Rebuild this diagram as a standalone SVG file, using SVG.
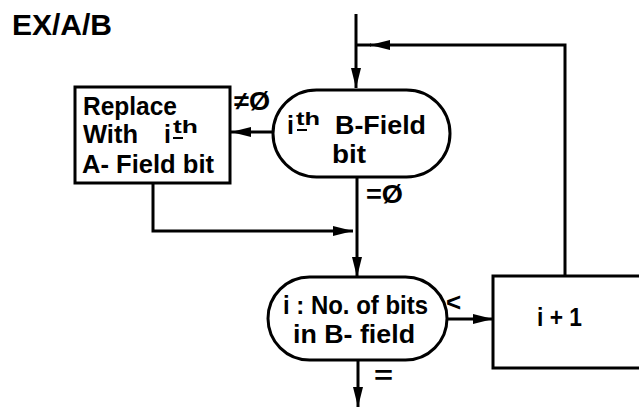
<svg xmlns="http://www.w3.org/2000/svg" width="639" height="407" viewBox="0 0 639 407">
<style>
text{font-family:"Liberation Sans",Arial,sans-serif;font-weight:bold;fill:#000}
.t{font-size:25px}
.s{font-size:18px}
.l{font-size:26px}
.shape{fill:#fff;stroke:#000;stroke-width:3}
.c{fill:none;stroke:#000;stroke-width:3}
.u{stroke:#000;stroke-width:2}
</style>
<defs>
<marker id="ah" viewBox="0 0 20 10" refX="20" refY="5" markerWidth="20" markerHeight="10" markerUnits="userSpaceOnUse" orient="auto">
<path d="M0,0 L20,5 L0,10 Z" fill="#000"/>
</marker>
</defs>
<rect width="639" height="407" fill="#fff"/>
<text x="12" y="35" font-size="30" textLength="100" lengthAdjust="spacingAndGlyphs">EX/A/B</text>
<g id="connectors">
<path class="c" d="M356,14 V88" marker-end="url(#ah)"/>
<path class="c" d="M565,276 V45 H370" marker-end="url(#ah)"/>
<path class="c" d="M371,45 H356"/>
<path class="c" d="M273,132 H231" marker-end="url(#ah)"/>
<path class="c" d="M357,177 V277" marker-end="url(#ah)"/>
<path class="c" d="M153,183 V231 H353" marker-end="url(#ah)"/>
<path class="c" d="M447,319 H493" marker-end="url(#ah)"/>
<path class="c" d="M358,360 V407" marker-end="url(#ah)"/>
<text class="l" x="234" y="110" textLength="36" lengthAdjust="spacingAndGlyphs">≠Ø</text>
<text class="l" x="366" y="203" textLength="37" lengthAdjust="spacingAndGlyphs">=Ø</text>
<text class="l" x="446" y="311">&lt;</text>
<text class="l" x="374" y="384" textLength="19" lengthAdjust="spacingAndGlyphs">=</text>
</g>
<g id="replace">
<rect class="shape" x="75" y="87" width="155" height="96"/>
<text class="t" x="83" y="115" textLength="94" lengthAdjust="spacingAndGlyphs">Replace</text>
<text class="t" x="83" y="143" textLength="55" lengthAdjust="spacingAndGlyphs">With</text>
<text class="t" x="164" y="143">i</text>
<text class="s" x="173" y="133" textLength="25" lengthAdjust="spacingAndGlyphs">th</text>
<line class="u" x1="173" y1="138" x2="183" y2="138"/>
<text class="t" x="82" y="173" textLength="132" lengthAdjust="spacingAndGlyphs">A- Field bit</text>
</g>
<g id="bfield">
<rect class="shape" x="273" y="90" width="177" height="87" rx="43.5" ry="43.5"/>
<text class="t" x="287" y="134">i</text>
<text class="s" x="296" y="125" textLength="24" lengthAdjust="spacingAndGlyphs">th</text>
<line class="u" x1="297" y1="130" x2="307" y2="130"/>
<text class="t" x="335" y="134" textLength="91" lengthAdjust="spacingAndGlyphs">B-Field</text>
<text class="t" x="332" y="163" textLength="34" lengthAdjust="spacingAndGlyphs">bit</text>
</g>
<g id="compare">
<rect class="shape" x="268" y="277" width="179" height="83" rx="41.5" ry="41.5"/>
<text class="t" x="283" y="314" textLength="145" lengthAdjust="spacingAndGlyphs">i : No. of bits</text>
<text class="t" x="293" y="343" textLength="122" lengthAdjust="spacingAndGlyphs">in B- field</text>
</g>
<g id="increment">
<rect class="shape" x="493" y="276" width="160" height="92"/>
<text class="t" x="537" y="326" textLength="45" lengthAdjust="spacingAndGlyphs">i + 1</text>
</g>
</svg>
